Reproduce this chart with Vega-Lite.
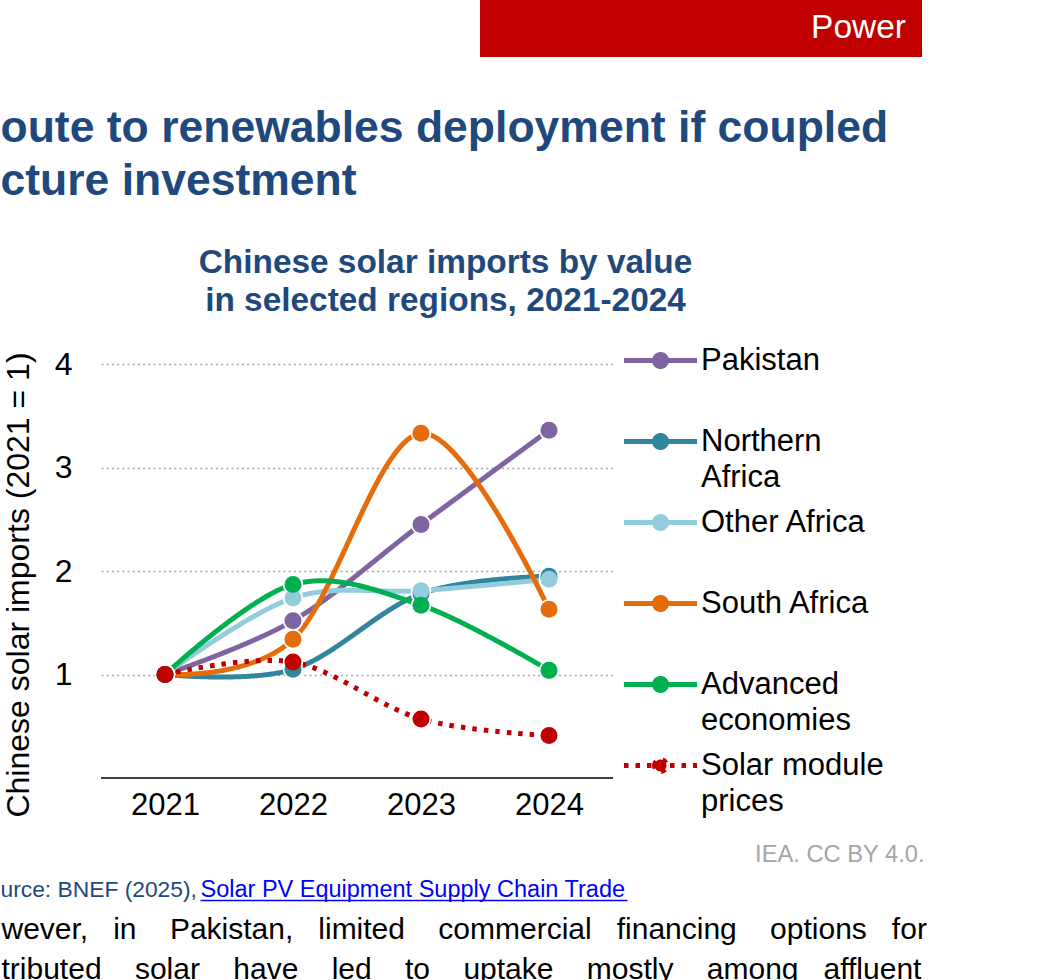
{
  "$schema": "https://vega.github.io/schema/vega-lite/v6.json",
  "autosize": {"type": "none"},
  "padding": {"left": 101, "top": 0, "right": 939, "bottom": 980},
  "background": "#ffffff",
  "config": {
    "font": "Liberation Sans",
    "view": {"stroke": null},
    "style": {"guide-label": {"lineHeight": 36}}
  },
  "resolve": {"scale": {"color": "independent", "fill": "independent", "strokeDash": "independent"}},
  "spacing": 364,
  "bounds": "flush",
  "vconcat": [
    {
      "spacing": 0,
      "bounds": "flush",
      "hconcat": [
        {"width": 379, "height": 57, "data": {"values": []}, "mark": "point"},
        {
          "width": 442,
          "height": 57,
          "view": {"fill": "#C00000", "stroke": null},
          "data": {"values": [{"section": "Power"}]},
          "mark": {"type": "text", "align": "right", "baseline": "alphabetic", "dx": 205, "dy": 9, "fontSize": 33.5, "color": "#ffffff"},
          "encoding": {"text": {"field": "section", "type": "nominal"}}
        }
      ]
    },
    {
      "width": 512,
      "height": 414,
      "data": {
        "values": [
          {"year": "2021", "series": "Pakistan", "value": 1},
          {"year": "2022", "series": "Pakistan", "value": 1.52},
          {"year": "2023", "series": "Pakistan", "value": 2.45},
          {"year": "2024", "series": "Pakistan", "value": 3.36},
          {"year": "2021", "series": "Northern Africa", "value": 1},
          {"year": "2022", "series": "Northern Africa", "value": 1.05},
          {"year": "2023", "series": "Northern Africa", "value": 1.78},
          {"year": "2024", "series": "Northern Africa", "value": 1.95},
          {"year": "2021", "series": "Other Africa", "value": 1},
          {"year": "2022", "series": "Other Africa", "value": 1.74},
          {"year": "2023", "series": "Other Africa", "value": 1.81},
          {"year": "2024", "series": "Other Africa", "value": 1.92},
          {"year": "2021", "series": "South Africa", "value": 1},
          {"year": "2022", "series": "South Africa", "value": 1.34},
          {"year": "2023", "series": "South Africa", "value": 3.33},
          {"year": "2024", "series": "South Africa", "value": 1.63},
          {"year": "2021", "series": "Advanced economies", "value": 1},
          {"year": "2022", "series": "Advanced economies", "value": 1.87},
          {"year": "2023", "series": "Advanced economies", "value": 1.67},
          {"year": "2024", "series": "Advanced economies", "value": 1.04},
          {"year": "2021", "series": "Solar module prices", "value": 1},
          {"year": "2022", "series": "Solar module prices", "value": 1.12},
          {"year": "2023", "series": "Solar module prices", "value": 0.57},
          {"year": "2024", "series": "Solar module prices", "value": 0.41}
        ]
      },
      "resolve": {"axis": {"x": "independent", "y": "independent"}},
      "layer": [
        {
          "data": {"values": [{}]},
          "mark": {"type": "rule", "color": "#000000", "strokeWidth": 1.3},
          "encoding": {
            "y": {
              "datum": 0,
              "type": "quantitative",
              "scale": {"domain": [0, 4], "nice": false},
              "axis": {
                "orient": "right", "labels": false, "ticks": false, "domain": false, "grid": false,
                "title": ["wever, \u00a0\u00a0in \u00a0\u00a0\u00a0Pakistan, \u00a0\u00a0limited \u00a0\u00a0\u00a0commercial \u00a0\u00a0financing \u00a0\u00a0\u00a0options \u00a0\u00a0for", "tributed \u00a0\u00a0\u00a0solar \u00a0\u00a0\u00a0have \u00a0\u00a0\u00a0led \u00a0\u00a0\u00a0to \u00a0\u00a0\u00a0uptake \u00a0\u00a0\u00a0mostly \u00a0\u00a0\u00a0among \u00a0\u00a0affluent"],
                "titleFontSize": 30, "titleFontWeight": "normal", "titleColor": "#000000",
                "titleAngle": 0, "titleAlign": "left", "titleBaseline": "alphabetic",
                "titleX": -612, "titleY": 574.3, "titleLineHeight": 40
              }
            }
          }
        },
        {
          "mark": {"type": "line", "strokeWidth": 5, "interpolate": "cardinal"},
          "encoding": {
            "x": {
              "field": "year", "type": "ordinal",
              "scale": {"type": "point", "padding": 0.5, "domain": ["2021", "2022", "2023", "2024"]},
              "axis": {
                "orient": "bottom", "labelFontSize": 31, "labelColor": "#000000", "labelPadding": 12, "labelAngle": 0,
                "ticks": false, "tickSize": 0, "domain": false, "grid": false,
                "title": "IEA. CC BY 4.0.", "titleFontSize": 23.7, "titleFontWeight": "normal", "titleColor": "#A6A6A6",
                "titleX": 823, "titleY": 83, "titleAlign": "right", "titleBaseline": "alphabetic"
              }
            },
            "y": {
              "field": "value", "type": "quantitative",
              "scale": {"domain": [0, 4], "nice": false},
              "axis": {
                "orient": "left", "values": [1, 2, 3, 4], "labelFontSize": 32, "labelColor": "#000000", "labelPadding": 29,
                "ticks": false, "tickSize": 0, "domain": false,
                "grid": true, "gridColor": "#A6A6A6", "gridDash": [2, 3.2], "gridWidth": 1.5,
                "title": "Chinese solar imports (2021 = 1)", "titleFontSize": 32, "titleFontWeight": "normal", "titleColor": "#000000",
                "titleAngle": -90, "titleX": -73, "titleY": 220.5, "titleAlign": "center", "titleBaseline": "alphabetic"
              }
            },
            "color": {
              "field": "series", "type": "nominal",
              "scale": {
                "domain": ["Pakistan", "Northern Africa", "Other Africa", "South Africa", "Advanced economies", "Solar module prices"],
                "range": ["#8064A2", "#31859C", "#93CDDD", "#E46C0A", "#00B050", "#C00000"]
              },
              "legend": {
                "title": null, "orient": "none", "legendX": 529.5, "legendY": -33.5,
                "symbolType": "M-1.327,0L1.327,0M-0.218,0A0.218,0.218 0 1,1 0.218,0A0.218,0.218 0 1,1 -0.218,0Z",
                "symbolSize": 3025, "symbolStrokeWidth": 5,
                "labelFontSize": 31, "labelColor": "#000000", "labelOffset": 10.5, "labelLimit": 400,
                "rowPadding": 0, "padding": 0, "labelBaseline": "middle",
                "labelExpr": "datum.label == 'Northern Africa' ? ['Northern', 'Africa'] : datum.label == 'Advanced economies' ? ['Advanced', 'economies'] : datum.label == 'Solar module prices' ? ['Solar module', 'prices'] : [datum.label, '']"
              }
            },
            "strokeDash": {
              "field": "series", "type": "nominal",
              "scale": {
                "domain": ["Pakistan", "Northern Africa", "Other Africa", "South Africa", "Advanced economies", "Solar module prices"],
                "range": [[1, 0], [1, 0], [1, 0], [1, 0], [1, 0], [4.5, 7]]
              },
              "legend": {
                "title": null, "orient": "none", "legendX": 529.5, "legendY": -33.5,
                "symbolType": "M-1.327,0L1.327,0M-0.218,0A0.218,0.218 0 1,1 0.218,0A0.218,0.218 0 1,1 -0.218,0Z",
                "symbolSize": 3025, "symbolStrokeWidth": 5,
                "labelFontSize": 31, "labelColor": "#000000", "labelOffset": 10.5, "labelLimit": 400,
                "rowPadding": 0, "padding": 0, "labelBaseline": "middle",
                "labelExpr": "datum.label == 'Northern Africa' ? ['Northern', 'Africa'] : datum.label == 'Advanced economies' ? ['Advanced', 'economies'] : datum.label == 'Solar module prices' ? ['Solar module', 'prices'] : [datum.label, '']"
              }
            }
          }
        },
        {
          "mark": {"type": "point", "filled": true, "size": 420, "color": "#ffffff", "opacity": 1},
          "encoding": {
            "x": {
              "field": "year", "type": "ordinal",
              "scale": {"type": "point", "padding": 0.5, "domain": ["2021", "2022", "2023", "2024"]},
              "axis": {
                "orient": "top", "labels": false, "ticks": false, "domain": false, "grid": false,
                "title": ["Chinese solar imports by value", "in selected regions, 2021-2024"],
                "titleFontSize": 33.4, "titleFontWeight": "bold", "titleColor": "#1F497D",
                "titleX": 344, "titleY": -92, "titleAlign": "center", "titleBaseline": "alphabetic", "titleLineHeight": 38
              }
            },
            "y": {
              "field": "value", "type": "quantitative",
              "scale": {"domain": [0, 4], "nice": false},
              "axis": {
                "orient": "right", "labels": false, "ticks": false, "domain": false, "grid": false,
                "title": ["oute to renewables deployment if coupled", "cture investment"],
                "titleFontSize": 44.5, "titleFontWeight": "bold", "titleColor": "#1F497D",
                "titleAngle": 0, "titleX": -613, "titleY": -222.3, "titleAlign": "left", "titleBaseline": "alphabetic", "titleLineHeight": 53
              }
            }
          }
        },
        {
          "mark": {"type": "point", "filled": true, "size": 290, "opacity": 1},
          "encoding": {
            "x": {
              "field": "year", "type": "ordinal",
              "scale": {"type": "point", "padding": 0.5, "domain": ["2021", "2022", "2023", "2024"]},
              "axis": {
                "orient": "bottom", "position": 99, "offset": 122, "labels": false, "ticks": false, "grid": false,
                "domain": true, "domainColor": "#0000FF", "domainWidth": 1.3, "domainDash": [427, 2000],
                "title": "Solar PV Equipment Supply Chain Trade", "titleFontSize": 23.5, "titleFontWeight": "normal", "titleColor": "#0000FF",
                "titleX": 0, "titleY": -3.3, "titleAlign": "left", "titleBaseline": "alphabetic"
              }
            },
            "y": {
              "field": "value", "type": "quantitative",
              "scale": {"domain": [0, 4], "nice": false},
              "axis": {
                "orient": "left", "labels": false, "ticks": false, "domain": false, "grid": false,
                "title": "urce: BNEF (2025),", "titleFontSize": 22.8, "titleFontWeight": "normal", "titleColor": "#1F497D",
                "titleAngle": 0, "titleX": -101, "titleY": 532.7, "titleAlign": "left", "titleBaseline": "alphabetic"
              }
            },
            "fill": {
              "field": "series", "type": "nominal",
              "scale": {
                "domain": ["Pakistan", "Northern Africa", "Other Africa", "South Africa", "Advanced economies", "Solar module prices"],
                "range": ["#8064A2", "#31859C", "#93CDDD", "#E46C0A", "#00B050", "#C00000"]
              },
              "legend": {
                "title": null, "orient": "none", "legendX": 529.5, "legendY": -33.5,
                "symbolType": "M-1.327,0L1.327,0M-0.218,0A0.218,0.218 0 1,1 0.218,0A0.218,0.218 0 1,1 -0.218,0Z",
                "symbolSize": 3025, "symbolStrokeWidth": 5,
                "labelFontSize": 31, "labelColor": "#000000", "labelOffset": 10.5, "labelLimit": 400,
                "rowPadding": 0, "padding": 0, "labelBaseline": "middle",
                "labelExpr": "datum.label == 'Northern Africa' ? ['Northern', 'Africa'] : datum.label == 'Advanced economies' ? ['Advanced', 'economies'] : datum.label == 'Solar module prices' ? ['Solar module', 'prices'] : [datum.label, '']"
              }
            }
          }
        }
      ]
    }
  ]
}
